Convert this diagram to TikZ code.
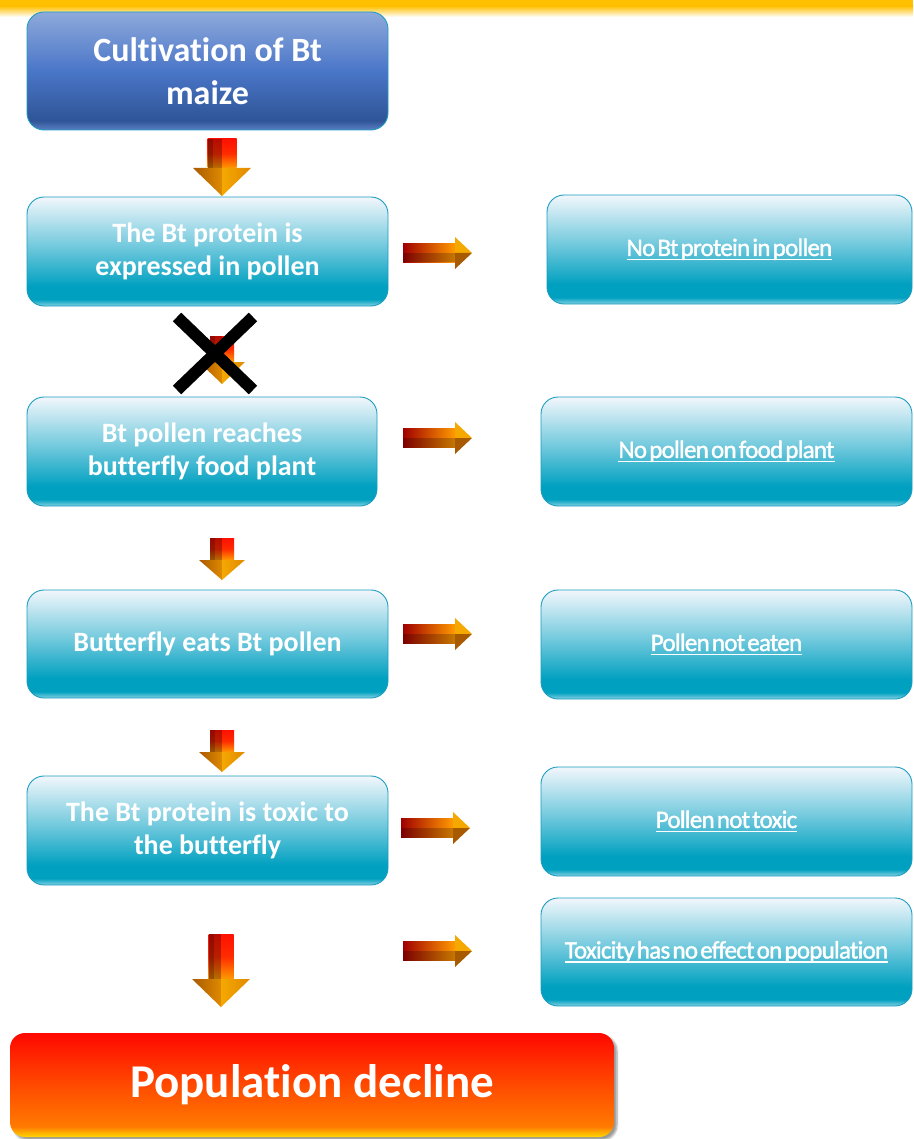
\documentclass[tikz,border=0pt]{standalone}
\usepackage{fontspec}
\setmainfont{Carlito}[Ligatures={NoCommon}]
\newfontfamily\condfont[LetterSpace=-3, WordSpace=0.45, Ligatures={NoCommon}, FakeBold=1.5]{Carlito}
\usetikzlibrary{shadows.blur}

\definecolor{cyanTop}{HTML}{F2F7FC}
\definecolor{cyanMid}{HTML}{6FC8DC}
\definecolor{cyanDeep}{HTML}{00A0C0}
\definecolor{cyanEdge}{HTML}{86D2E3}
\definecolor{cyanLine}{HTML}{1C9CC0}
\definecolor{blueTop}{HTML}{8EA9DB}
\definecolor{blueMid}{HTML}{4A76C8}
\definecolor{blueDeep}{HTML}{2F5597}
\definecolor{blueEdge}{HTML}{5B7FC3}
\definecolor{redTop}{HTML}{FF0800}
\definecolor{redMid}{HTML}{FF4A00}
\definecolor{redDeep}{HTML}{FF7A00}
\definecolor{redEdge}{HTML}{FFD800}
\definecolor{barOrange}{HTML}{FFC000}
\definecolor{arrRedDark}{HTML}{A00000}
\definecolor{arrRed}{HTML}{FF1000}
\definecolor{arrOrange}{HTML}{FF9A00}
\definecolor{headDark}{HTML}{A85A00}
\definecolor{headMid}{HTML}{E08A00}
\definecolor{headLight}{HTML}{F5A800}

\pgfdeclareverticalshading{cyanbox}{100bp}{color(0bp)=(cyanEdge); color(25bp)=(cyanEdge);
  color(28bp)=(cyanDeep); color(34bp)=(cyanDeep); color(52bp)=(cyanMid);
  color(75bp)=(cyanTop); color(100bp)=(cyanTop)}
\pgfdeclareverticalshading{bluebox}{100bp}{color(0bp)=(blueEdge); color(25bp)=(blueEdge);
  color(29bp)=(blueDeep); color(50bp)=(blueMid); color(75bp)=(blueTop); color(100bp)=(blueTop)}
\pgfdeclareverticalshading{redbox}{100bp}{color(0bp)=(redEdge); color(25bp)=(redEdge);
  color(30bp)=(redDeep); color(50bp)=(redMid); color(75bp)=(redTop); color(100bp)=(redTop)}

% underline drawn as a rule under the text
\newcommand\ulbar[1]{\setbox0\hbox{#1}\leavevmode\rlap{\rule[-4.5pt]{\wd0}{1.7pt}}\box0}

% 3D block arrow pointing down: x, top, head start, tip, half shaft, half head
\newcommand\blockdown[6]{%
  \shade[top color=arrRed, bottom color=arrOrange, middle color=arrRed!80!arrOrange]
    (#1-#5,#2) rectangle (#1+#5,#3);
  \fill[black,opacity=.28] (#1-#5,#2) rectangle (#1,#3);
  \fill[black,opacity=.2] (#1-#5,#2) rectangle (#1-#5*0.6,#3);
  \shade[left color=headDark, right color=headMid] (#1-#6,#3) -- (#1,#3) -- (#1,#4) -- cycle;
  \shade[left color=headLight, right color=headMid] (#1,#3) -- (#1+#6,#3) -- (#1,#4) -- cycle;
}
% 3D block arrow pointing right: y, left, head start, tip, half shaft, half head
\newcommand\blockright[6]{%
  \shade[left color=arrRedDark, middle color=arrRed, right color=arrOrange]
    (#2,#1-#5) rectangle (#3,#1+#5);
  \fill[black,opacity=.22] (#2,#1) rectangle (#3,#1+#5);
  \fill[headLight] (#3,#1-#6) -- (#4,#1) -- (#3,#1) -- cycle;
  \fill[headDark] (#3,#1) -- (#4,#1) -- (#3,#1+#6) -- cycle;
}

\tikzset{
  basebox/.style={rounded corners=17pt, inner sep=0pt, align=center, text=white},
  leftbox/.style={basebox, shading=cyanbox, draw=cyanLine, line width=0.9pt,
    font=\fontsize{28}{33}\selectfont\bfseries},
  rightbox/.style={basebox, shading=cyanbox, draw=cyanLine, line width=0.9pt,
    font=\condfont\fontsize{25}{30}\selectfont},
  topbox/.style={basebox, shading=bluebox, draw=cyanLine, line width=0.9pt,
    font=\fontsize{34}{43}\selectfont\bfseries},
  endbox/.style={basebox, rounded corners=15pt, shading=redbox,
    blur shadow={shadow xshift=3pt, shadow yshift=-3pt, shadow blur steps=6},
    font=\fontsize{47}{56}\selectfont\bfseries},
  crossline/.style={line width=12pt, black},
}

\begin{document}
\begin{tikzpicture}[x=1pt, y=-1pt]
\useasboundingbox (0,0) rectangle (913,1139);

% header band
\fill[barOrange] (0,0) rectangle (913,6);
\shade[top color=barOrange, bottom color=white] (0,6) rectangle (913,17);

% main chain
\node[topbox, minimum width=361pt, minimum height=118pt] (l0) at (207.5,71)
  {Cultivation of Bt\\maize};
\node[leftbox, minimum width=361pt, minimum height=109pt] (l1) at (207.5,251.5)
  {The Bt protein is\\expressed in pollen};
\node[leftbox, minimum width=350pt, minimum height=109pt] (l2) at (202,451.5)
  {Bt pollen reaches\\butterfly food plant};
\node[leftbox, minimum width=361pt, minimum height=108pt] (l3) at (207.5,644)
  {Butterfly eats Bt pollen};
\node[leftbox, minimum width=361pt, minimum height=109pt] (l4) at (207.5,830.5)
  {The Bt protein is toxic to\\the butterfly};
\node[endbox, minimum width=604pt, minimum height=104pt] (end) at (312,1085)
  {Population decline};

% alternatives
\node[rightbox, minimum width=365pt, minimum height=109pt] (r1) at (729.5,249.5)
  {\ulbar{No Bt protein in pollen}};
\node[rightbox, minimum width=371pt, minimum height=109pt] (r2) at (726.5,451.5)
  {\ulbar{No pollen on food plant}};
\node[rightbox, minimum width=371pt, minimum height=109pt] (r3) at (726.5,644.5)
  {\ulbar{Pollen not eaten}};
\node[rightbox, minimum width=371pt, minimum height=109pt] (r4) at (726.5,821.5)
  {\ulbar{Pollen not toxic}};
\node[rightbox, minimum width=371pt, minimum height=108pt] (r5) at (726.5,952)
  {\ulbar{Toxicity has no effect on population}};

% downward arrows
\blockdown{222}{139}{168}{196}{14.5}{29}
\blockdown{222}{336}{362}{384}{12}{23}
\blockdown{222}{538}{560}{580}{12}{23}
\blockdown{222}{730}{752}{772}{12}{23}
\blockdown{221}{934}{979}{1007}{12.5}{29}

% rightward arrows
\blockright{253}{403}{455}{472}{9.5}{16}
\blockright{438}{403}{455}{472}{9.5}{16}
\blockright{634}{403}{455}{472}{9.5}{16}
\blockright{828}{401}{453}{470}{9.5}{16}
\blockright{951}{403}{455}{472}{9.5}{16}

% broken link
\coordinate (xa) at (177,317);
\coordinate (xb) at (253,390);
\coordinate (xc) at (253,317);
\coordinate (xd) at (177,390);
\draw[crossline] (xa) -- (xb);
\draw[crossline] (xc) -- (xd);
\end{tikzpicture}
\end{document}
